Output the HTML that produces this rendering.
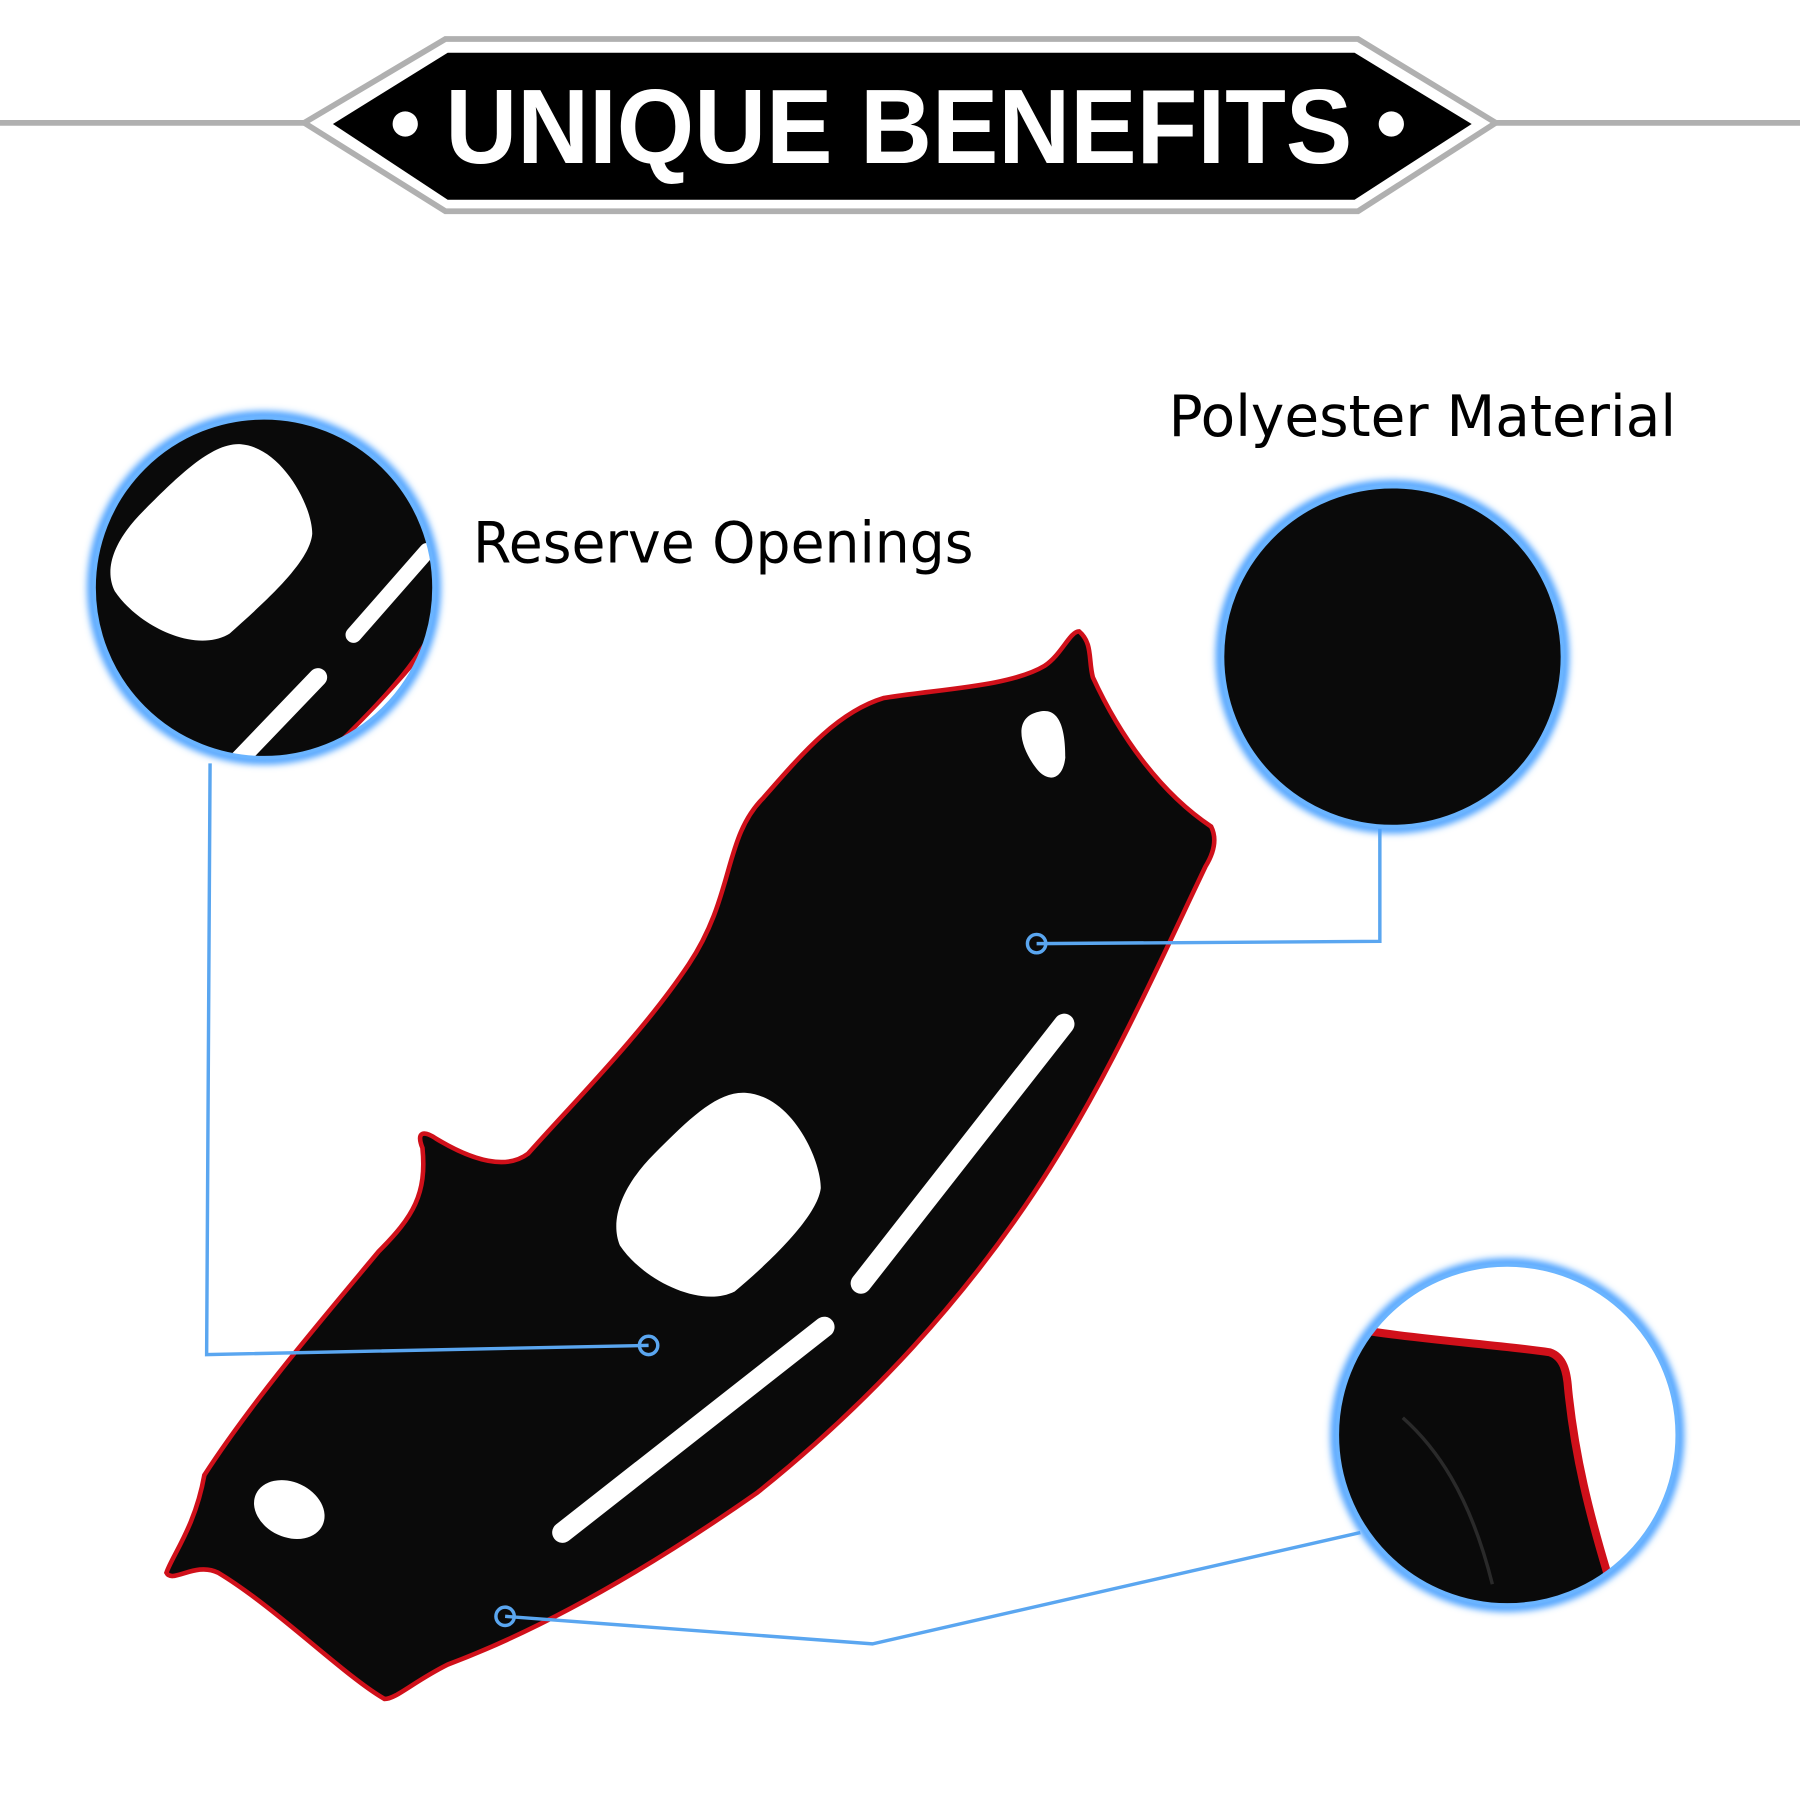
<!DOCTYPE html>
<html><head><meta charset="utf-8"><style>
html,body{margin:0;padding:0;background:#fff;}
svg{display:block;}
</style></head><body>
<svg width="1800" height="1800" viewBox="0 0 1568 1568" xmlns="http://www.w3.org/2000/svg">
<defs>
<filter id="glow" x="-20%" y="-20%" width="140%" height="140%"><feGaussianBlur stdDeviation="3"/></filter>
<clipPath id="c1"><circle cx="230" cy="512" r="148"/></clipPath>
<clipPath id="c3"><circle cx="1313" cy="1250" r="148"/></clipPath>
</defs>
<rect width="1568" height="1568" fill="#fff"/>
<!-- header -->
<line x1="0" y1="107" x2="1568" y2="107" stroke="#b0b0b0" stroke-width="5"/>
<polygon points="388,34 1183,34 1303,107 1183,184 388,184 265,107" fill="#fff" stroke="#b0b0b0" stroke-width="5"/>
<polygon points="390,46 1180,46 1282,108 1180,174 390,174 290,108" fill="#000"/>
<circle cx="353" cy="108" r="11" fill="#fff"/>
<circle cx="1212" cy="108" r="11" fill="#fff"/>
<text x="783" y="142" text-anchor="middle" font-family="Liberation Sans, sans-serif" font-weight="bold" font-size="92" fill="#fff" textLength="790" lengthAdjust="spacingAndGlyphs">UNIQUE BENEFITS</text>
<!-- labels -->
<text x="412" y="490" font-family="DejaVu Sans, sans-serif" font-size="50" fill="#000" textLength="436" lengthAdjust="spacingAndGlyphs">Reserve Openings</text>
<text x="1018" y="380" font-family="DejaVu Sans, sans-serif" font-size="50" fill="#000" textLength="442" lengthAdjust="spacingAndGlyphs">Polyester Material</text>
<!-- mat -->
<path d="M940,550 C952,560 948,575 952,590 C975,640 1010,690 1055,720 C1060,730 1058,742 1050,755 C1000,860 960,950 900,1040 C840,1130 760,1220 660,1300 C560,1370 470,1420 390,1450 C360,1465 345,1480 335,1480 C300,1460 240,1400 190,1370 C170,1360 150,1380 145,1370 C150,1355 170,1330 178,1285 C220,1220 280,1150 330,1090 C360,1060 372,1040 368,1000 C362,985 370,985 380,992 C410,1010 440,1020 460,1005 C500,960 560,900 600,840 C640,780 630,730 665,695 C700,655 730,620 770,608 C820,600 880,598 910,580 C925,570 932,550 940,550 Z" fill="#0a0a0a" stroke="#d0101a" stroke-width="4"/>
<path d="M905,620 C925,615 928,640 928,660 C926,678 915,682 905,672 C890,655 880,625 905,620 Z" fill="#fff"/>
<path d="M650,952 C690,955 715,1010 715,1035 C712,1060 670,1100 640,1125 C610,1140 560,1115 540,1085 C530,1060 545,1030 570,1005 C600,975 625,950 650,952 Z" fill="#fff"/>
<line x1="927" y1="892" x2="750" y2="1118" stroke="#fff" stroke-width="18" stroke-linecap="round"/>
<line x1="718" y1="1156" x2="490" y2="1335" stroke="#fff" stroke-width="18" stroke-linecap="round"/>
<ellipse cx="252" cy="1315" rx="32" ry="24" transform="rotate(25 252 1315)" fill="#fff"/>
<!-- connectors -->
<g stroke="#5aa6f0" stroke-width="3" fill="none">
<polyline points="183,665 180,1180 565,1172"/>
<polyline points="1202,722 1202,820 903,822"/>
<polyline points="440,1408 760,1432 1185,1335"/>
</g>
<g fill="none" stroke="#5aa6f0" stroke-width="3">
<circle cx="565" cy="1172" r="8"/><circle cx="903" cy="822" r="8"/><circle cx="440" cy="1408" r="8"/>
</g>
<!-- circle 1 -->
<circle cx="230" cy="512" r="150" fill="none" stroke="#4aa0ff" stroke-width="8" filter="url(#glow)"/>
<g clip-path="url(#c1)">
<rect x="70" y="350" width="320" height="330" fill="#0a0a0a"/>
<path d="M380,540 C360,580 330,610 290,650 L280,680 L400,680 Z" fill="#d0101a"/>
<path d="M380,555 C355,590 325,620 285,660 L300,690 L400,690 Z" fill="#fff"/>
<path d="M210,387 C245,390 272,440 272,465 C270,490 230,525 200,552 C170,570 120,545 100,515 C90,495 100,470 125,445 C155,415 185,385 210,387 Z" fill="#fff"/>
<line x1="372" y1="480" x2="308" y2="553" stroke="#fff" stroke-width="14" stroke-linecap="round"/>
<line x1="277" y1="590" x2="205" y2="665" stroke="#fff" stroke-width="16" stroke-linecap="round"/>
</g>
<circle cx="230" cy="512" r="148" fill="none" stroke="#6ab4ff" stroke-width="3"/>
<!-- circle 2 -->
<circle cx="1213" cy="572" r="150" fill="none" stroke="#4aa0ff" stroke-width="8" filter="url(#glow)"/>
<circle cx="1213" cy="572" r="148" fill="#0a0a0a" stroke="#6ab4ff" stroke-width="3"/>
<!-- circle 3 -->
<circle cx="1313" cy="1250" r="150" fill="none" stroke="#4aa0ff" stroke-width="8" filter="url(#glow)"/>
<circle cx="1313" cy="1250" r="148" fill="#fff"/>
<g clip-path="url(#c3)">
<path d="M1150,1150 L1195,1160 C1250,1168 1310,1172 1350,1178 C1362,1182 1365,1195 1366,1210 C1372,1270 1385,1320 1400,1370 L1420,1420 L1150,1420 Z" fill="#0a0a0a" stroke="#d0101a" stroke-width="7"/>
<path d="M1222,1235 C1250,1260 1280,1300 1300,1380" fill="none" stroke="#2a2a2a" stroke-width="3"/>
</g>
<circle cx="1313" cy="1250" r="148" fill="none" stroke="#6ab4ff" stroke-width="3"/>
</svg>
</body></html>
